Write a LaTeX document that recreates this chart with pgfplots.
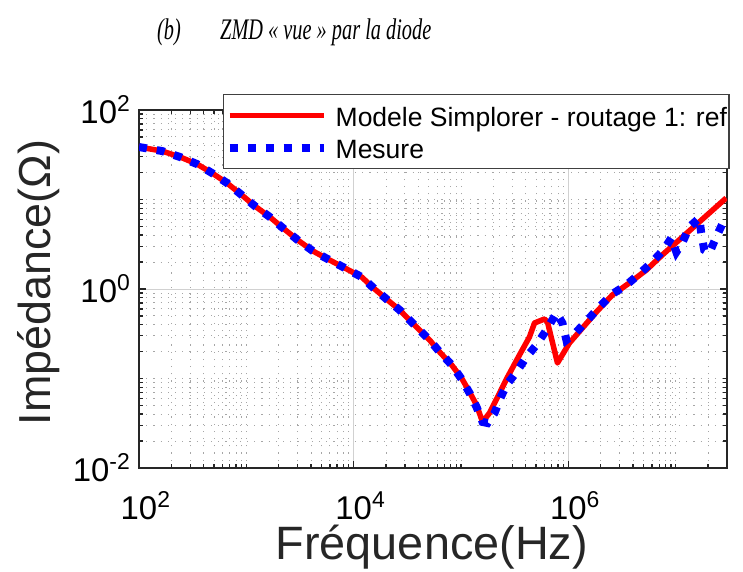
\documentclass[border=0pt]{standalone}
\usepackage{pgfplots}
\pgfplotsset{compat=1.18}
\usepackage{fontspec}
\setmainfont{Liberation Sans}
\newfontfamily\titlefont{Liberation Serif}
\definecolor{axgray}{RGB}{38,38,38}
\newcommand{\tpx}[1]{10\rlap{\raisebox{12bp}{\fontsize{23}{23}\selectfont #1}}}
\newcommand{\tpy}[1]{10\raisebox{12bp}{\fontsize{23}{23}\selectfont #1}}

\pgfplotstableread{
f z
100 38.6
163.7 34.8
240.4 29.9
346.7 24.9
477.5 19.8
659.2 15.3
907.8 11.2
1199 8.45
1656 6.37
2188 4.81
3013 3.52
4159 2.66
5728 2.16
8241 1.72
11858 1.36
15668 1.0
20701 0.753
26792 0.582
36898 0.396
50933 0.269
63096 0.198
81658 0.142
101158 0.101
119950 0.0706
139316 0.0506
158489 0.0327
184077 0.0412
218776 0.0621
271019 0.104
349945 0.183
433511 0.291
483059 0.417
598412 0.462
638263 0.428
790679 0.149
1021000 0.249
1349000 0.366
1820000 0.553
2564000 0.857
3690000 1.167
5321000 1.629
7482000 2.399
29510000 10.40
}\model

\pgfplotstableread{
f z
100 38.6
163.7 34.8
240.4 29.9
346.7 24.9
477.5 19.8
659.2 15.3
907.8 11.2
1199 8.45
1656 6.37
2188 4.81
3013 3.52
4159 2.66
5728 2.16
8241 1.72
11858 1.36
15668 1.0
20701 0.753
26792 0.582
36898 0.396
50933 0.269
63096 0.198
81658 0.142
101158 0.0986
119950 0.0689
139316 0.0481
158489 0.0327
176604 0.0318
205116 0.0412
228034 0.0575
264850 0.0845
328095 0.118
406443 0.174
503501 0.237
623735 0.348
772681 0.540
879023 0.417
957194 0.269
1186000 0.331
1567000 0.474
1941000 0.630
2564000 0.879
3467000 1.109
4571000 1.472
6039000 2.004
7816000 2.799
9078000 3.715
10120000 2.588
11480000 3.266
13370000 4.932
16560000 6.209
17260000 4.227
18410000 2.729
20510000 2.523
23820000 3.811
27670000 5.610
}\mesure

\begin{document}
\begin{tikzpicture}
\begin{axis}[
  at={(139bp,104bp)}, anchor=south west,
  scale only axis, width=588bp, height=358bp,
  xmode=log, ymode=log,
  xmin=100, xmax=3e7, ymin=0.01, ymax=100,
  xtick={1e2,1e4,1e6}, ytick={1e-2,1,1e2},
  xticklabels={\tpx{2},\tpx{4},\tpx{6}},
  yticklabels={\tpy{-2},\tpy{0},\tpy{2}},
  minor xtick={200,300,400,500,600,700,800,900,1000,2000,3000,4000,5000,6000,7000,8000,9000,20000,30000,40000,50000,60000,70000,80000,90000,100000,200000,300000,400000,500000,600000,700000,800000,900000,2e6,3e6,4e6,5e6,6e6,7e6,8e6,9e6,1e7,2e7},
  minor ytick={0.02,0.03,0.04,0.05,0.06,0.07,0.08,0.09,0.1,0.2,0.3,0.4,0.5,0.6,0.7,0.8,0.9,2,3,4,5,6,7,8,9,10,20,30,40,50,60,70,80,90},
  grid=both,
  major grid style={draw=black!18, line width=1bp},
  minor grid style={draw=black!35, line width=0.9bp, dash pattern=on 1.2bp off 6bp},
  axis line style={draw=axgray, line width=1.5bp},
  tick align=inside,
  major tick length=7bp, minor tick length=4bp,
  every tick/.style={draw=axgray, line width=1.3bp},
  tick label style={font=\fontsize{33}{33}\selectfont, text=black},
  xticklabel style={anchor=base, inner sep=0pt, yshift=-51bp},
  yticklabel style={anchor=east, inner sep=0pt, xshift=-9bp},
  xlabel={Fréquence(Hz)},
  ylabel={Impédance(Ω)},
  label style={text=black!85},
  xlabel style={font=\fontsize{47}{47}\selectfont, at={(axis description cs:0.498,-0.256)}, anchor=base},
  ylabel style={font=\fontsize{45}{45}\selectfont, at={(axis description cs:-0.151,0.518)}, anchor=base},
  legend style={at={(axis description cs:0.1429,1.0447)}, anchor=north west,
    draw=black!75, line width=1.3bp, fill=white,
    font=\fontsize{26.6}{26.6}\selectfont,
    inner xsep=2bp, inner ysep=7.5bp, row sep=5bp, column sep=8bp,
    nodes={inner sep=0bp, text height=24bp, text depth=3bp}},
  legend cell align=left,
  legend image code/.code={\draw[#1] (8bp,0bp) -- (102bp,0bp);},
]
\addplot[color=red, line width=5.5bp, line join=round] table[x=f, y=z] {\model};
\addlegendentry{Modele Simplorer - routage 1: ref}
\addplot[color=blue, line width=8bp, dash pattern=on 8bp off 10bp] table[x=f, y=z] {\mesure};
\addlegendentry{Mesure}
\end{axis}
\node[anchor=base west, inner sep=0pt] at (157bp,532bp) {\scalebox{0.68}[1]{\titlefont\itshape\fontsize{30}{30}\selectfont (b)}};
\node[anchor=base west, inner sep=0pt] at (220bp,532bp) {\scalebox{0.68}[1]{\titlefont\itshape\fontsize{30}{30}\selectfont ZMD « vue » par la diode}};
\pgfresetboundingbox
\path[use as bounding box] (0bp,0bp) rectangle (743bp,572bp);
\end{tikzpicture}
\end{document}
